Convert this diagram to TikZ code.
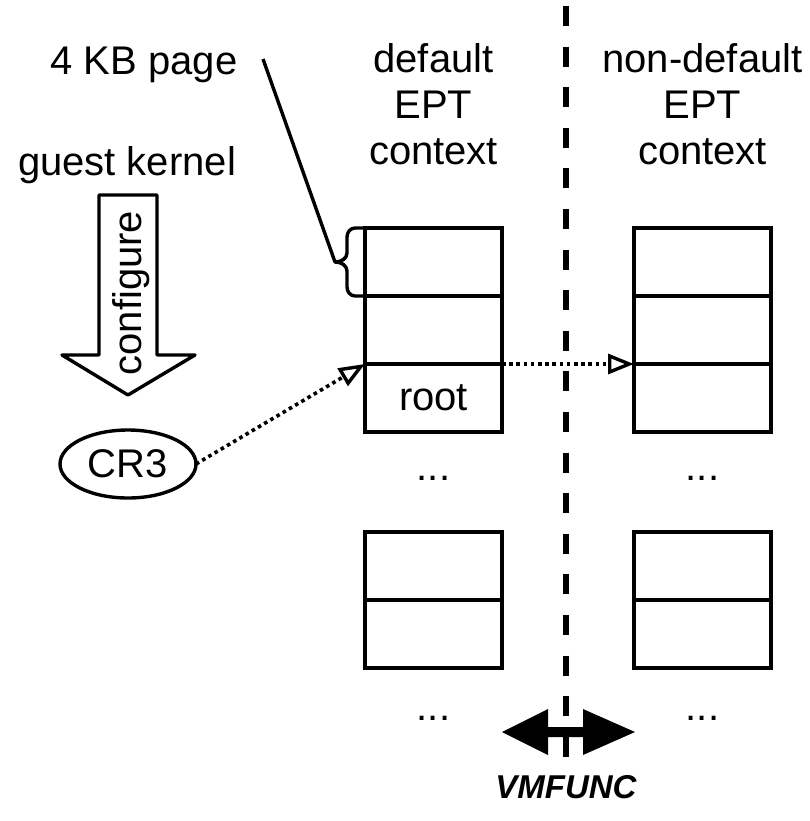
\documentclass[tikz,border=0pt]{standalone}
\usepackage{fontspec}
\setmainfont{Liberation Sans}
\usetikzlibrary{arrows.meta,shapes.geometric}
\begin{document}
\begin{tikzpicture}[x=0.5pt,y=-0.5pt,
  every node/.style={font=\fontsize{20}{23}\selectfont, inner sep=0pt, outer sep=0pt},
  label/.style={align=center},
  cell/.style={draw, line width=1.7pt, minimum width=68.5pt, minimum height=34pt},
  oval/.style={draw, ellipse, line width=1.7pt, minimum width=68pt, minimum height=34pt},
  pointer/.style={line width=1.8pt, dash pattern=on 1.8pt off 1.8pt,
    -{Triangle[open, length=13pt, width=10pt, line width=1.7pt]}},
  thinline/.style={line width=1.7pt, line join=round},
  separator/.style={line width=3pt, dash pattern=on 10pt off 10.3pt},
]
\useasboundingbox (0,0) rectangle (810,821);

% domain separator
\coordinate (sepT) at (566,6);
\coordinate (sepB) at (566,757);
\draw[separator] (sepT) -- (sepB);

% column headings
\node[label, anchor=base] (kb) at (144,74) {4 KB page};
\node[label, anchor=base] (gk) at (127,175) {guest kernel};
\node[label, anchor=north] (dh) at (433.5,44) {default\\EPT\\context};
\node[label, anchor=north] (nh) at (702.5,44) {non-default\\EPT\\context};

% default EPT context pages
\node[cell] (d1) at (433.5,262) {};
\node[cell] (d2) at (433.5,330) {};
\node[cell] (d3) at (433.5,398) {root};
\node (ddots1) at (433.5,478) {...};
\node[cell] (d4) at (433.5,566) {};
\node[cell] (d5) at (433.5,634) {};
\node (ddots2) at (433.5,718) {...};

% non-default EPT context pages
\node[cell] (n1) at (702.5,262) {};
\node[cell] (n2) at (702.5,330) {};
\node[cell] (n3) at (702.5,398) {};
\node (ndots1) at (702.5,478) {...};
\node[cell] (n4) at (702.5,566) {};
\node[cell] (n5) at (702.5,634) {};
\node (ndots2) at (702.5,718) {...};

% brace marking one 4 KB page
\coordinate (bt) at (335,262);
\coordinate (kbline) at (263,59);
\draw[thinline] (kbline) -- (bt);
\draw[thinline] (d1.north west) -- (355,228) to[out=180,in=90] (347,237)
  -- (347,253) to[out=-90,in=0] (bt) to[out=0,in=90] (347,271)
  -- (347,287) to[out=-90,in=180] (355,296) -- (d1.south west);

% configure arrow
\draw[thinline, fill=white] (99,195) -- (157,195) -- (157,355) -- (195,355)
  -- (128,395) -- (62,355) -- (99,355) -- cycle;
\node[rotate=90] (cfg) at (131,293) {configure};

% CR3 register
\node[oval] (cr3) at (128,464) {CR3};

% pointers
\draw[pointer] (cr3.east) -- (d3.north west);
\draw[pointer] (d3.north east) -- (n3.north west);

% VMFUNC switch
\fill (502,732) -- (548,709) -- (548,727) -- (583,727) -- (583,709) -- (635,732)
  -- (583,755) -- (583,737) -- (548,737) -- (548,755) -- cycle;
\node[font=\fontsize{16.5}{19}\selectfont\bfseries\itshape] (vmf) at (566,787) {VMFUNC};
\end{tikzpicture}
\end{document}
